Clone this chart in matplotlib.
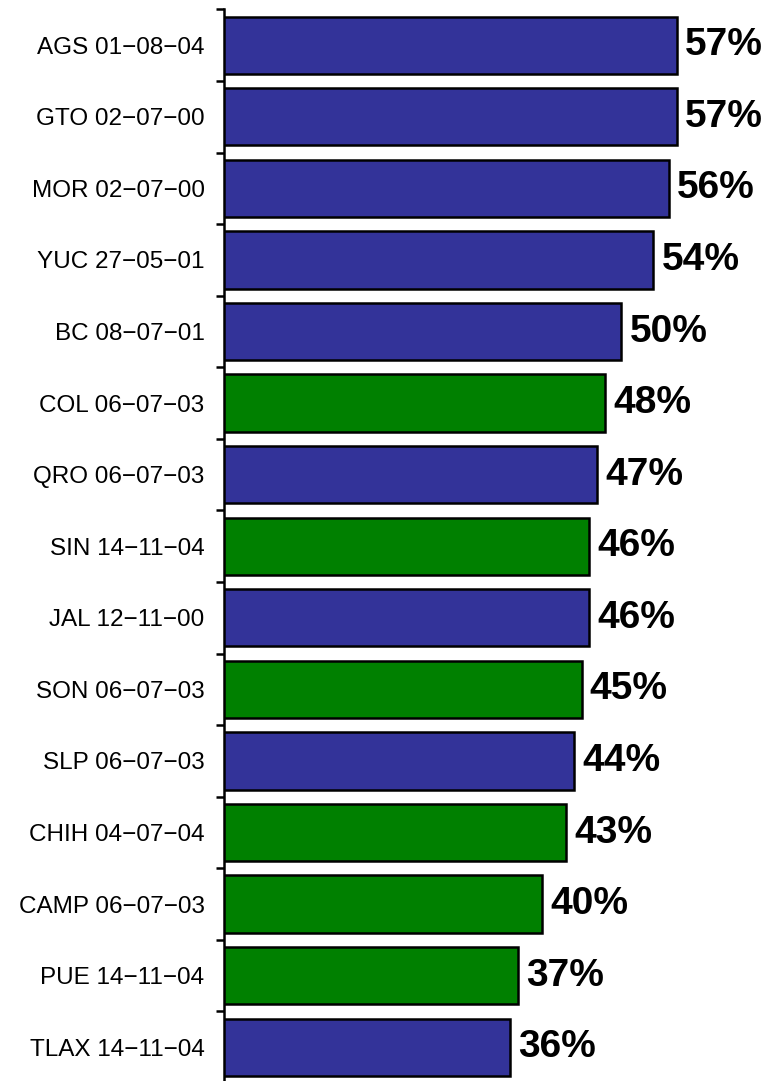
import matplotlib
matplotlib.use("Agg")
import matplotlib.pyplot as plt
import numpy as np

plt.rcParams['font.family'] = ['Liberation Sans', 'DejaVu Sans']

categories = ["AGS 01−08−04", "GTO 02−07−00", "MOR 02−07−00", "YUC 27−05−01",
              "BC 08−07−01", "COL 06−07−03", "QRO 06−07−03", "SIN 14−11−04",
              "JAL 12−11−00", "SON 06−07−03", "SLP 06−07−03", "CHIH 04−07−04",
              "CAMP 06−07−03", "PUE 14−11−04", "TLAX 14−11−04"]
values = [57, 57, 56, 54, 50, 48, 47, 46, 46, 45, 44, 43, 40, 37, 36]
groups = ["b", "b", "b", "b", "b", "g", "b", "g", "b", "g", "b", "g", "g", "g", "b"]
palette = {"b": "#333399", "g": "#008000"}

W, H = 773, 1081
fig = plt.figure(figsize=(W / 100, H / 100), dpi=100)
ax_top_px, ax_bot_px = 9.5, 1083
ax = fig.add_axes([224 / W, 1 - ax_bot_px / H, 1 - 224 / W, (ax_bot_px - ax_top_px) / H])

y = np.arange(len(categories))
colors = [palette[g] for g in groups]
ax.barh(y, values, height=0.8, color=colors, edgecolor="black", linewidth=1.8, zorder=3)

ax.set_ylim(len(categories) - 0.5, -0.5)
ax.set_xlim(0, 69.1)

for yi, v in zip(y, values):
    ax.annotate(f"{v}%", xy=(v, yi), xytext=(6, 0), textcoords="offset points",
                ha="left", va="center", fontsize=28, fontweight="bold", color="black")

ax.set_yticks(y)
ax.set_yticklabels(categories, fontsize=17.5)
ax.tick_params(axis="y", which="major", length=0, pad=14)
ax.set_yticks(np.arange(-0.5, len(categories), 1.0), minor=True)
ax.tick_params(axis="y", which="minor", length=6, width=1.8, direction="out")
ax.set_xticks([])

for s in ["top", "right", "bottom"]:
    ax.spines[s].set_visible(False)
ax.spines["left"].set_linewidth(1.8)

fig.savefig("out.png", dpi=100)
